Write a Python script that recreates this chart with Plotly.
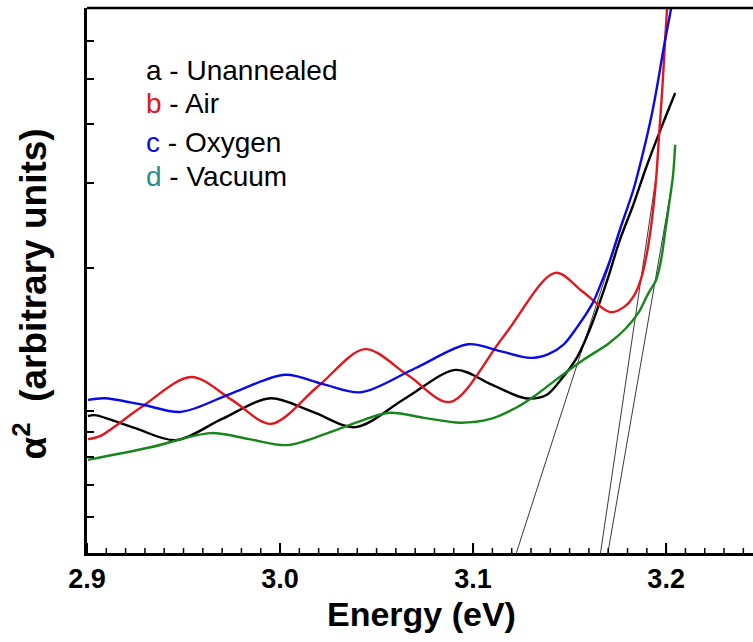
import numpy as np
import plotly.graph_objects as go

# ---- data (energy in eV, alpha^2 in arbitrary units) ----
E_a = [2.9005, 2.904, 2.925, 2.946, 2.970, 2.995, 3.017, 3.039, 3.065, 3.091, 3.109, 3.127,
       3.138, 3.145, 3.154, 3.161, 3.166, 3.170, 3.176, 3.183, 3.1895, 3.197, 3.2047]
A_a = [25.1, 25.3, 22.9, 20.7, 24.6, 28.4, 25.9, 23.1, 28.4, 33.6, 31.0, 28.4,
       29.0, 31.6, 36.0, 41.5, 46.4, 50.6, 57.4, 63.9, 70.6, 77.6, 84.4]

E_b = [2.9005, 2.907, 2.9275, 2.954, 2.975, 2.9953, 3.0197, 3.044, 3.0663, 3.088, 3.1155, 3.1425,
       3.157, 3.171, 3.1788, 3.1835, 3.187, 3.190, 3.1927, 3.1948, 3.1964, 3.198, 3.1995, 3.2005, 3.201]
A_b = [20.9, 21.5, 26.6, 32.3, 28.1, 23.7, 30.6, 37.4, 32.6, 27.7, 39.6, 51.4,
       47.9, 44.2, 45.3, 47.3, 50.3, 54.9, 61.3, 68.6, 76.9, 85.1, 94.3, 100.0, 103.0]

E_c = [2.9005, 2.909, 2.929, 2.9487, 2.9756, 3.0026, 3.0223, 3.042, 3.070, 3.0974, 3.1135, 3.1296,
       3.139, 3.147, 3.154, 3.162, 3.167, 3.171, 3.176, 3.183, 3.188, 3.1927, 3.1959, 3.199,
       3.2026, 3.2036]
A_c = [28.1, 28.4, 27.2, 25.9, 29.4, 32.7, 31.0, 29.5, 33.9, 38.3, 37.1, 35.8,
       36.5, 38.3, 41.5, 45.9, 50.1, 53.8, 59.3, 66.6, 73.4, 80.7, 86.8, 93.2,
       100.0, 102.4]

E_d = [2.9005, 2.933, 2.964, 2.984, 3.004, 3.030, 3.056, 3.0746, 3.0933, 3.109, 3.122, 3.1326,
       3.1415, 3.157, 3.1704, 3.1788, 3.1855, 3.1907, 3.1948, 3.1974, 3.1995, 3.2015, 3.2036, 3.2047]
A_d = [17.1, 19.4, 22.0, 20.9, 19.8, 22.7, 25.7, 24.8, 23.9, 24.6, 26.6, 29.0,
       31.4, 35.4, 38.5, 41.1, 44.0, 47.6, 50.1, 53.8, 58.9, 63.9, 69.4, 74.9]

# linear band-gap extrapolations (intercept on energy axis, slope, upper end)
tangent_E0 = [3.1224, 3.166, 3.1698]
tangent_slope = [1098.0, 2397.0, 2036.0]
tangent_Eend = [3.1813, 3.1952, 3.2025]

series_labels = ["a", "b", "c", "d"]
series_names = ["Unannealed", "Air", "Oxygen", "Vacuum"]

x_range = [2.9, 3.245]
x_major_ticks = [2.9, 3.0, 3.1, 3.2]
x_minor_step = 0.01
y_tick_vals = [94.0, 87.0, 78.7, 67.9, 52.3, 26.1, 22.2, 17.6, 12.5, 6.6]

curve_colors = ["#000000", "#e3161d", "#0a0ae6", "#16861a"]
label_colors = ["#000000", "#e3161d", "#0a0ae6", "#2a8f8a"]

x_minor_ticks = [round(v, 2) for v in np.arange(x_range[0], x_range[1], x_minor_step)
                 if all(abs(v - m) > 1e-6 for m in x_major_ticks)]

fig = go.Figure()

for i, E0 in enumerate(tangent_E0):
    xs = [E0, tangent_Eend[i]]
    ys = [0.0, tangent_slope[i] * (tangent_Eend[i] - E0)]
    fig.add_trace(go.Scatter(x=xs, y=ys, mode="lines",
                             line=dict(color="#222222", width=0.9),
                             showlegend=False, hoverinfo="skip"))

for E, A, c in zip([E_a, E_b, E_c, E_d], [A_a, A_b, A_c, A_d], curve_colors):
    fig.add_trace(go.Scatter(x=E, y=A, mode="lines",
                             line=dict(color=c, width=2.4, shape="spline", smoothing=0.9),
                             showlegend=False))

# inward x-axis tick marks as axis-anchored shapes (pixel lengths)
for v in x_major_ticks:
    fig.add_shape(type="line", xref="x", yref="paper", x0=v, x1=v,
                  ysizemode="pixel", yanchor=0, y0=0, y1=10,
                  line=dict(color="black", width=2), layer="above")
for v in x_minor_ticks:
    fig.add_shape(type="line", xref="x", yref="paper", x0=v, x1=v,
                  ysizemode="pixel", yanchor=0, y0=0, y1=5,
                  line=dict(color="black", width=1.5), layer="above")

font_fam = "Liberation Sans, Arial, sans-serif"

row_y = [0.886, 0.824, 0.754, 0.690]
for i in range(4):
    fig.add_annotation(
        xref="paper", yref="paper", x=0.086, y=row_y[i], xanchor="left", yanchor="middle",
        text=f"<span style='color:{label_colors[i]}'>{series_labels[i]}</span> - {series_names[i]}",
        showarrow=False, font=dict(family=font_fam, size=28, color="#000000"))

fig.add_annotation(xref="paper", yref="paper", x=0.503, y=-0.112, xanchor="center", yanchor="middle",
                   text="<b>Energy (eV)</b>", showarrow=False,
                   font=dict(family=font_fam, size=34, color="#000000"))
fig.add_annotation(xref="paper", yref="paper", x=-0.085, y=0.475, xanchor="center", yanchor="middle",
                   text="<b>α<sup>2</sup>  (arbitrary units)</b>", textangle=-90, showarrow=False,
                   font=dict(family=font_fam, size=37, color="#000000"))

# top frame line
fig.add_shape(type="line", xref="paper", yref="paper", x0=0, x1=1, y0=1, y1=1,
              line=dict(color="black", width=2.5), layer="above")

fig.update_layout(
    width=753, height=642,
    margin=dict(l=87, r=0, t=8, b=89),
    paper_bgcolor="white", plot_bgcolor="white",
    showlegend=False,
    font=dict(family=font_fam, color="#000000"),
    xaxis=dict(range=x_range, showgrid=False, zeroline=False,
               showline=True, linecolor="black", linewidth=2.5, mirror=False,
               tickmode="array", tickvals=x_major_ticks, tickformat=".1f",
               ticks="inside", ticklen=10, tickwidth=2, tickcolor="black",
               tickfont=dict(family=font_fam, size=27, color="black", weight="bold")),
    yaxis=dict(range=[0, 100], showgrid=False, zeroline=False,
               showline=True, linecolor="black", linewidth=2.5, mirror=False,
               ticks="inside", ticklen=7, tickwidth=2, tickcolor="black",
               tickmode="array", tickvals=y_tick_vals, showticklabels=False),
)

fig.write_html("out.html")
